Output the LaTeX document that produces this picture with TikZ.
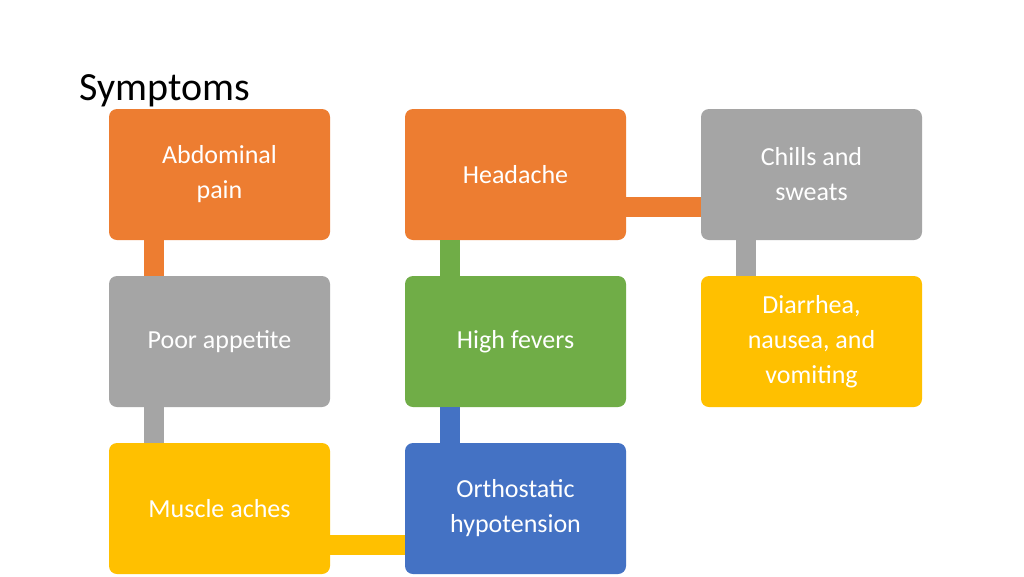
\documentclass[tikz,border=0pt]{standalone}
\usepackage{fontspec}
\setmainfont{Carlito}
\definecolor{cor}{HTML}{ED7D31}
\definecolor{cgr}{HTML}{A5A5A5}
\definecolor{cye}{HTML}{FFC000}
\definecolor{cgn}{HTML}{70AD47}
\definecolor{cbl}{HTML}{4472C4}
\begin{document}
\begin{tikzpicture}[x=1pt,y=-1pt,
  sbox/.style={rounded corners=8pt,minimum width=221pt,minimum height=131pt,inner sep=0pt,text=white,align=center,font=\fontsize{26}{35}\selectfont},
  bar/.style={line width=20pt}]
\useasboundingbox (0,0) rectangle (1024,576);
\fill[white] (0,0) rectangle (1024,576);
\node[anchor=base west,font=\fontsize{40}{48}\selectfont] (t) at (76,100) {Symptoms};
\node[sbox,fill=cor] (a) at (219.5,174.5) {Abdominal\\pain};
\node[sbox,fill=cgr] (p) at (219.5,341.5) {Poor appetite};
\node[sbox,fill=cye] (m) at (219.5,508.5) {Muscle aches};
\node[sbox,fill=cor] (h) at (515.5,174.5) {Headache};
\node[sbox,fill=cgn] (f) at (515.5,341.5) {High fevers};
\node[sbox,fill=cbl] (o) at (515.5,508.5) {Orthostatic\\hypotension};
\node[sbox,fill=cgr] (c) at (811.5,174.5) {Chills and\\sweats};
\node[sbox,fill=cye] (d) at (811.5,341.5) {Diarrhea,\\nausea, and\\vomiting};
\draw[bar,cor] ([xshift=-66pt]a.south) -- ([xshift=-66pt]p.north);
\draw[bar,cgr] ([xshift=-66pt]p.south) -- ([xshift=-66pt]m.north);
\draw[bar,cye] ([yshift=-36pt]m.east) -- ([yshift=-36pt]o.west);
\draw[bar,cbl] ([xshift=-66pt]o.north) -- ([xshift=-66pt]f.south);
\draw[bar,cgn] ([xshift=-66pt]f.north) -- ([xshift=-66pt]h.south);
\draw[bar,cor] ([yshift=-32pt]h.east) -- ([yshift=-32pt]c.west);
\draw[bar,cgr] ([xshift=-66pt]c.south) -- ([xshift=-66pt]d.north);
\end{tikzpicture}
\end{document}
